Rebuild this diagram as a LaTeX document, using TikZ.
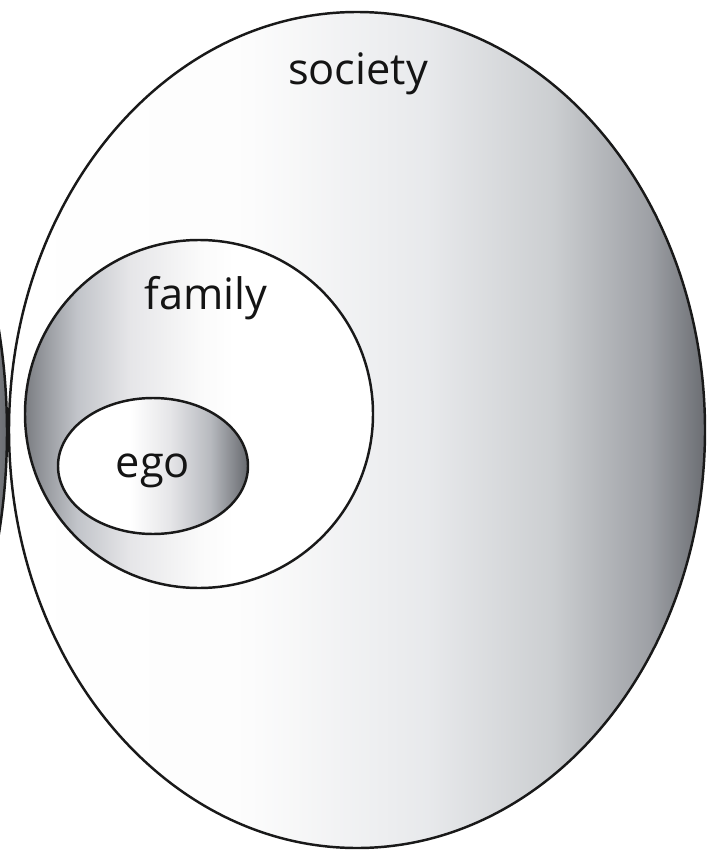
\documentclass[tikz,border=0pt]{standalone}
\usepackage{fontspec}
\setmainfont{Open Sans}
\usepackage{tikz}

% shadings (25bp = left edge, 75bp = right edge of the shape)
\pgfdeclarehorizontalshading{societyshade}{100bp}{rgb(0bp)=(1,1,1); rgb(25bp)=(1,1,1); rgb(42bp)=(0.99,0.99,0.99); rgb(55bp)=(0.91,0.915,0.925); rgb(64bp)=(0.8,0.81,0.82); rgb(71bp)=(0.62,0.63,0.65); rgb(75bp)=(0.42,0.43,0.45); rgb(100bp)=(0.42,0.43,0.45)}
\pgfdeclarehorizontalshading{familyshade}{100bp}{rgb(0bp)=(0.48,0.49,0.51); rgb(25bp)=(0.48,0.49,0.51); rgb(28bp)=(0.6,0.61,0.63); rgb(32.5bp)=(0.76,0.77,0.79); rgb(40bp)=(0.9,0.9,0.91); rgb(50bp)=(0.98,0.98,0.98); rgb(55bp)=(1,1,1); rgb(100bp)=(1,1,1)}
\pgfdeclarehorizontalshading{egoshade}{100bp}{rgb(0bp)=(1,1,1); rgb(25bp)=(1,1,1); rgb(44bp)=(1,1,1); rgb(54.5bp)=(0.9,0.9,0.91); rgb(65bp)=(0.72,0.73,0.75); rgb(72bp)=(0.5,0.51,0.53); rgb(75bp)=(0.4,0.41,0.43); rgb(100bp)=(0.4,0.41,0.43)}

\tikzset{
  ring/.style={draw=black!90, line width=2.1pt},
  label/.style={font=\fontsize{37}{40}\selectfont, text=black!92, inner sep=0pt, anchor=base}
}

\begin{document}
\begin{tikzpicture}[x=0.03cm, y=-0.03cm]
\useasboundingbox (0,0) rectangle (713,851);
\clip (0,0) rectangle (713,851);

% neighbouring ellipse, cut off at the left
\path[ring, shading=societyshade] (-293,432) ellipse [x radius=300, y radius=440];

% society
\path[ring, shading=societyshade] (357,430) ellipse [x radius=348, y radius=418];
\node[label] (society) at (358,85) {society};

% family
\path[ring, shading=familyshade] (199,414) circle [radius=174];
\node[label] (family) at (206,309) {family};

% ego
\path[ring, shading=egoshade] (153,466) ellipse [x radius=95, y radius=68];
\node[label] (ego) at (153,477) {ego};

\end{tikzpicture}
\end{document}
